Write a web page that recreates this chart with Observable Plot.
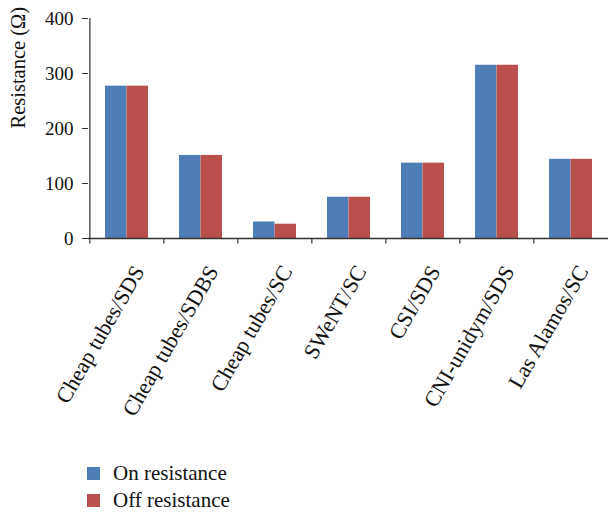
<!DOCTYPE html>
<html>
<head>
<meta charset="utf-8">
<script src="https://cdn.jsdelivr.net/npm/d3@7"></script>
<script src="https://cdn.jsdelivr.net/npm/@observablehq/plot@0.6"></script>
<style>
  html, body { margin: 0; padding: 0; background: #fff; }
  #chart { position: relative; width: 608px; font-family: "Liberation Serif", serif; }
  .legend { margin-left: 87px; margin-top: 8px; font-family: "Liberation Serif", serif; font-size: 21px; color: #111; }
  .legend .row { display: flex; align-items: center; height: 27px; }
  .legend .sw { width: 13px; height: 13px; margin-right: 13px; }
</style>
</head>
<body>
<div id="chart"></div>
<script>
const categories = ["Cheap tubes/SDS", "Cheap tubes/SDBS", "Cheap tubes/SC", "SWeNT/SC", "CSI/SDS", "CNI-unidym/SDS", "Las Alamos/SC"];
const onValues  = [277, 151, 30, 75, 137, 315, 144];
const offValues = [277, 151, 26, 75, 137, 315, 144];
const seriesNames = ["On resistance", "Off resistance"];
const seriesColors = ["#4f7db6", "#b9504e"];
const yTicks = [0, 100, 200, 300, 400];
const yLabel = "Resistance (Ω)";

const W = 608, H = 452, mL = 88, mR = 0, mT = 18, mB = 214;
const step = (W - mL - mR) / categories.length;
const pad = 0.42;
const bw = step * (1 - pad);

const onData = categories.map((c, i) => ({cat: c, value: onValues[i]}));
const offData = categories.map((c, i) => ({cat: c, value: offValues[i]}));

const chart = Plot.plot({
  width: W, height: H,
  marginLeft: mL, marginRight: mR, marginTop: mT, marginBottom: mB,
  style: {fontFamily: "Liberation Serif, serif", fontSize: "19px", color: "#111", background: "#fff"},
  x: {domain: categories, paddingInner: pad, paddingOuter: pad / 2, axis: null},
  y: {domain: [0, 400], ticks: yTicks},
  marks: [
    Plot.barY(onData, {x: "cat", y: "value", fill: seriesColors[0], insetRight: bw / 2}),
    Plot.barY(offData, {x: "cat", y: "value", fill: seriesColors[1], insetLeft: bw / 2}),
    Plot.axisY({ticks: yTicks, tickSize: 6, tickPadding: 9, fontSize: 19, stroke: "#333", label: null}),
    Plot.text([yLabel], {frameAnchor: "left", text: d => d, rotate: -90, dx: -70, fontSize: 20.5, fill: "#111"}),
    Plot.ruleX([categories[0]], {x: d => d, y1: 0, y2: 400, dx: -step / 2, stroke: "#333", strokeWidth: 1.2}),
    Plot.ruleY([0], {stroke: "#333", strokeWidth: 1.5}),
    Plot.ruleX(categories, {x: d => d, y1: 0, y2: -10, dx: -step / 2, stroke: "#333", strokeWidth: 1.2, clip: false}),
    Plot.text(categories, {x: d => d, y: 0, text: d => d, rotate: -60, textAnchor: "end", dx: 12, dy: 29, fontSize: 22, fill: "#111"})
  ]
});
document.getElementById("chart").appendChild(chart);

const legend = document.createElement("div");
legend.className = "legend";
seriesNames.forEach((n, i) => {
  const row = document.createElement("div");
  row.className = "row";
  const sw = document.createElement("span");
  sw.className = "sw";
  sw.style.background = seriesColors[i];
  const t = document.createElement("span");
  t.textContent = n;
  row.appendChild(sw); row.appendChild(t);
  legend.appendChild(row);
});
document.getElementById("chart").appendChild(legend);
</script>
</body>
</html>
